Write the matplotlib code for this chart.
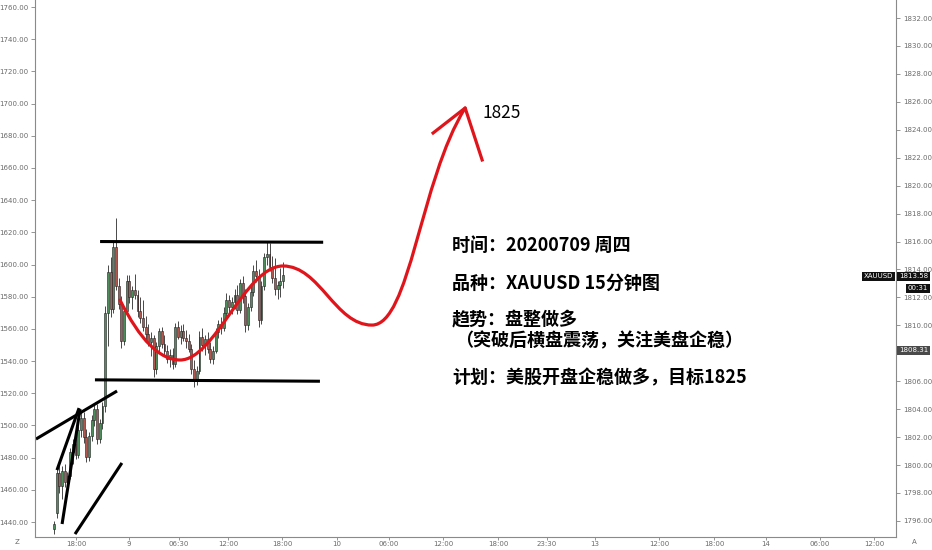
import matplotlib.pyplot as plt
import numpy as np
from matplotlib.path import Path
from matplotlib.patches import PathPatch

# 15 min XAUUSD candles
opens = [1795.4, 1796.6, 1799.4, 1798.5, 1799.6, 1798.8, 1799.2, 1800.9, 1801.5, 1800.7,
         1802.5, 1803.4, 1802.0, 1800.6, 1802.1, 1803.2, 1804.0, 1801.9, 1803.0, 1804.2,
         1810.9, 1813.8, 1811.2, 1815.6, 1812.8, 1811.5, 1808.9, 1811.0, 1813.2, 1812.0,
         1812.5, 1812.2, 1811.0, 1810.5, 1809.9, 1809.4, 1808.8, 1809.1, 1806.9, 1808.5,
         1809.6, 1808.7, 1808.2, 1807.6, 1807.9, 1807.2, 1809.9, 1809.2, 1809.6, 1809.1,
         1808.9, 1808.3, 1806.9, 1806.0, 1806.7, 1809.2, 1808.6, 1809.0, 1808.3, 1807.6,
         1808.2, 1809.5, 1810.1, 1809.8, 1810.9, 1811.8, 1811.3, 1811.7, 1812.2, 1811.1,
         1813.0, 1812.1, 1810.0, 1811.3, 1812.4, 1813.9, 1813.5, 1810.4, 1812.8, 1814.9,
         1815.1, 1814.2, 1813.4, 1812.6, 1812.9, 1813.2]
highs = [1796.0, 1799.8, 1800.2, 1799.9, 1800.1, 1799.5, 1801.2, 1801.9, 1802.3, 1802.8,
         1803.9, 1803.8, 1802.6, 1802.4, 1803.6, 1804.3, 1804.4, 1803.3, 1804.5, 1811.4,
         1814.3, 1814.9, 1816.0, 1817.7, 1813.4, 1812.1, 1811.3, 1813.6, 1813.6, 1812.8,
         1813.7, 1812.5, 1812.0, 1811.8, 1810.7, 1810.1, 1809.5, 1809.3, 1808.8, 1809.8,
         1809.9, 1809.3, 1808.6, 1808.3, 1808.4, 1810.2, 1810.3, 1810.0, 1810.1, 1809.7,
         1809.4, 1808.7, 1807.5, 1807.1, 1809.6, 1809.8, 1809.3, 1809.5, 1808.8, 1808.5,
         1809.8, 1810.4, 1810.6, 1811.3, 1812.3, 1812.2, 1812.0, 1812.6, 1812.9, 1813.3,
         1813.5, 1812.6, 1811.6, 1812.8, 1814.3, 1814.7, 1814.0, 1813.2, 1815.2, 1816.0,
         1815.9, 1815.0, 1814.8, 1813.2, 1814.1, 1814.5]
lows = [1795.1, 1796.2, 1798.0, 1797.6, 1798.4, 1797.8, 1799.0, 1800.1, 1800.4, 1800.5,
        1802.0, 1801.6, 1800.2, 1800.3, 1801.7, 1802.8, 1801.5, 1801.6, 1802.6, 1803.8,
        1808.5, 1810.6, 1810.9, 1812.5, 1811.2, 1808.4, 1808.6, 1810.8, 1811.6, 1811.2,
        1811.9, 1810.6, 1810.2, 1809.6, 1808.9, 1808.5, 1807.8, 1806.3, 1806.5, 1808.1,
        1808.4, 1807.9, 1807.3, 1807.0, 1806.9, 1807.0, 1809.0, 1808.7, 1808.9, 1808.4,
        1808.1, 1806.5, 1805.6, 1805.7, 1806.5, 1808.2, 1807.9, 1808.0, 1807.3, 1807.2,
        1808.0, 1809.1, 1809.4, 1809.6, 1810.5, 1810.9, 1810.8, 1811.2, 1810.8, 1810.9,
        1811.6, 1809.5, 1809.7, 1811.0, 1812.1, 1813.1, 1809.9, 1810.1, 1812.5, 1814.3,
        1813.9, 1813.0, 1812.2, 1811.9, 1812.0, 1812.7]
closes = [1795.8, 1799.4, 1798.5, 1799.6, 1798.8, 1799.2, 1800.9, 1801.5, 1800.7, 1802.5,
          1803.4, 1802.0, 1800.6, 1802.1, 1803.2, 1804.0, 1801.9, 1803.0, 1804.2, 1810.9,
          1813.8, 1811.2, 1815.6, 1812.8, 1811.5, 1808.9, 1811.0, 1813.2, 1812.0, 1812.5,
          1812.2, 1811.0, 1810.5, 1809.9, 1809.4, 1808.8, 1809.1, 1806.9, 1808.5, 1809.6,
          1808.7, 1808.2, 1807.6, 1807.9, 1807.2, 1809.9, 1809.2, 1809.6, 1809.1, 1808.9,
          1808.3, 1806.9, 1806.0, 1806.7, 1809.2, 1808.6, 1809.0, 1808.3, 1807.6, 1808.2,
          1809.5, 1810.1, 1809.8, 1810.9, 1811.8, 1811.3, 1811.7, 1812.2, 1811.1, 1813.0,
          1812.1, 1810.0, 1811.3, 1812.4, 1813.9, 1813.5, 1810.4, 1812.8, 1814.9, 1815.1,
          1814.2, 1813.4, 1812.6, 1812.9, 1813.2, 1813.58]

# time axis labels (bar slots)
tick_pos = [8.2, 27.8, 46.4, 64.6, 84.6, 105.0, 124.3, 144.4, 164.8, 183.0,
            200.8, 224.6, 245.0, 264.3, 284.3, 304.4]
tick_lab = ['18:00', '9', '06:30', '12:00', '18:00', '10', '06:00', '12:00', '18:00', '23:30',
            '13', '12:00', '18:00', '14', '06:00', '12:00']

right_ticks = np.arange(1796, 1833, 2)
left_ticks = np.arange(1440, 1761, 20)

# drawings: (bar slot, price)
black_lines = [
    [(17.1, 1816.0), (99.9, 1815.95)],
    [(15.2, 1806.1), (98.7, 1806.0)],
    [(-6.7, 1801.86), (23.4, 1805.3)],
    [(1.1, 1799.64), (9.3, 1804.08)],
    [(3.0, 1795.78), (9.7, 1804.01)],
    [(7.8, 1795.06), (25.2, 1800.15)],
]
curve_pts = [(24.5, 1811.81), (31.9, 1808.95), (39.3, 1807.52), (46.8, 1807.52),
             (59.8, 1807.52), (70.9, 1814.25), (85.0, 1814.25),
             (98.7, 1814.25), (104.3, 1810.02), (118.0, 1810.02),
             (132.1, 1810.02), (135.9, 1820.40), (152.6, 1825.56)]
arrow_head = [(140.7, 1823.77), (152.6, 1825.56), (158.9, 1821.84)]

W, H = 932, 550
fig = plt.figure(figsize=(W / 100, H / 100), dpi=100)
ax = fig.add_axes([35 / W, 13 / H, 861 / W, 537 / H])
ax.set_xlim(-7.05, 312.5)
ax.set_ylim(1794.85, 1833.29)

# left scale (twin), set up first so the price axis can take the right side
axl = ax.twinx()
axl.set_ylim(1430.68, 1764.35)
axl.yaxis.tick_left()
axl.set_yticks(left_ticks)
axl.set_yticklabels(['%.2f' % v for v in left_ticks])
axl.tick_params(axis='y', labelsize=5, colors='#6a6a6a', length=3, width=0.5, pad=2)
for s in ['top', 'right', 'bottom']:
    axl.spines[s].set_visible(False)
axl.spines['left'].set_color('#8a8a8a')
axl.spines['left'].set_linewidth(0.8)

x = np.arange(len(opens))
o = np.array(opens); c = np.array(closes)
up = c >= o
ax.vlines(x, lows, highs, color='#2b2b2b', lw=0.6, zorder=2)
body_h = np.maximum(np.abs(c - o), 0.08)
ax.bar(x[up], body_h[up], bottom=np.minimum(o, c)[up], width=0.7,
       color='#4e8c5c', edgecolor='#1e1e1e', lw=0.4, zorder=3)
ax.bar(x[~up], body_h[~up], bottom=np.minimum(o, c)[~up], width=0.7,
       color='#b0574f', edgecolor='#1e1e1e', lw=0.4, zorder=3)

for seg in black_lines:
    xs, ys = zip(*seg)
    ax.plot(xs, ys, color='black', lw=2.2, solid_capstyle='butt', zorder=4)

codes = [Path.MOVETO] + [Path.CURVE4] * (len(curve_pts) - 1)
ax.add_patch(PathPatch(Path(curve_pts, codes), fill=False, edgecolor='#e0151b',
                       lw=2.3, zorder=5, capstyle='round'))
ax.plot(*zip(*arrow_head), color='#e0151b', lw=2.3, zorder=5)

# right price scale (1808 is hidden under the 1808.31 tag)
ax.yaxis.tick_right()
ax.yaxis.set_label_position('right')
ax.set_yticks(right_ticks)
ax.set_yticklabels(['' if v == 1808 else '%.2f' % v for v in right_ticks])
ax.set_xticks(tick_pos)
ax.set_xticklabels(tick_lab)
ax.tick_params(axis='y', labelsize=5, colors='#6a6a6a', length=3, width=0.5, pad=2)
ax.tick_params(axis='x', labelsize=5, colors='#6a6a6a', length=2.5, width=0.5, pad=0.5)
for s in ['top', 'left']:
    ax.spines[s].set_visible(False)
for s in ['right', 'bottom']:
    ax.spines[s].set_color('#8a8a8a')
    ax.spines[s].set_linewidth(0.8)

# price tags on the right
def tag(px, py, s, bg):
    fig.text(px / W, 1 - py / H, s, fontsize=5, color='white', ha='left', va='center',
             bbox=dict(boxstyle='square,pad=0.25', fc=bg, ec='none'))
tag(864, 276.5, 'XAUUSD', '#111111')
tag(899, 276.5, '1813.58', '#111111')
tag(908, 288.5, '00:31', '#111111')
tag(899, 350.5, '1808.31', '#4a4a4a')

fig.text(17 / W, 1 - 542 / H, 'Z', fontsize=5, color='#6a6a6a', ha='center', va='center')
fig.text(914 / W, 1 - 542 / H, 'A', fontsize=5, color='#6a6a6a', ha='center', va='center')

cjk = ['Noto Sans CJK SC', 'DejaVu Sans']
fig.text(483 / W, 1 - 113 / H, '1825', fontsize=12.5, family=cjk, weight='medium',
         color='black', ha='left', va='center')
lines = [(452, 245, '时间：20200709 周四'),
         (452, 283, '品种：XAUUSD 15分钟图'),
         (452, 320, '趋势：盘整做多'),
         (455, 341, '（突破后横盘震荡，关注美盘企稳）'),
         (452, 378, '计划：美股开盘企稳做多，目标1825')]
for px, py, s in lines:
    fig.text(px / W, 1 - py / H, s, fontsize=13, family=cjk, weight='bold',
             color='black', ha='left', va='center')

fig.savefig('out.png', dpi=100)
